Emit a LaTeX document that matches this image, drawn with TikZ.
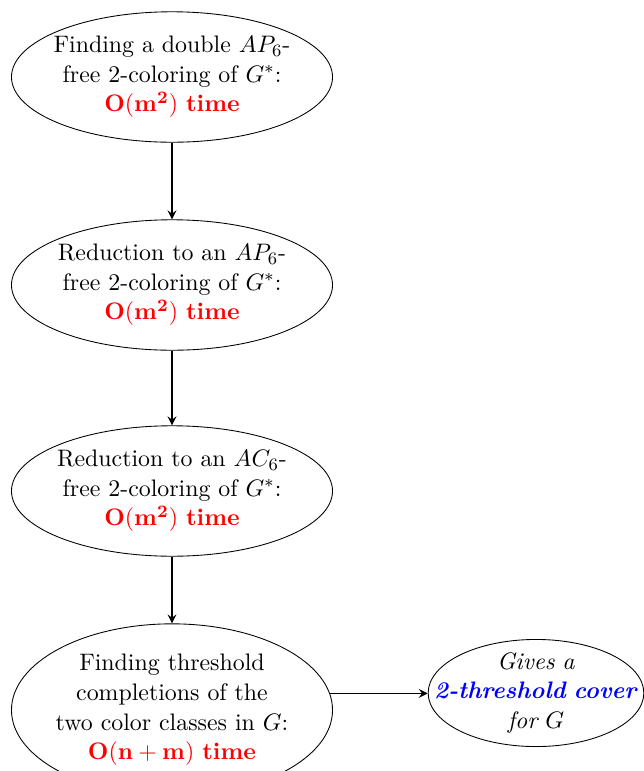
\documentclass[11pt,tikz,border=0pt]{standalone}
\usetikzlibrary{shapes.geometric}
\begin{document}
\begin{tikzpicture}[x=0.459pt,y=0.459pt,yscale=-1,xscale=1,
  stepnode/.style={ellipse, draw, text width=112pt, align=center, inner xsep=-3.9pt, inner ysep=2.4pt},
  resultnode/.style={ellipse, draw, text width=70pt, align=center, inner xsep=0pt, inner ysep=-1.2pt},
  flow/.style={->, >=stealth, thick}]
\path[use as bounding box] (0,0) rectangle (644,771);

%Shape: Ellipse
\node[stepnode] (doubleAP) at (172,77) {Finding a double $AP_6$-\\free 2-coloring of $G^*$:\\\textcolor{red}{\textbf{$\mathbf{O(m^2)}$ time}}};
%Shape: Ellipse
\node[stepnode] (reduceAP) at (172,285) {Reduction to an $AP_6$-\\free 2-coloring of $G^*$:\\\textcolor{red}{\textbf{$\mathbf{O(m^2)}$ time}}};
%Shape: Ellipse
\node[stepnode] (reduceAC) at (172,491) {Reduction to an $AC_6$-\\free 2-coloring of $G^*$:\\\textcolor{red}{\textbf{$\mathbf{O(m^2)}$ time}}};
%Shape: Ellipse
\node[stepnode] (completion) at (172,710) {Finding threshold\\completions of the\\two color classes in $G$:\\\textcolor{red}{\textbf{$\mathbf{O(n+m)}$ time}}};
%Shape: Ellipse
\node[resultnode] (cover) at (536,693) {\textit{Gives a}\\\makebox[0pt]{\textcolor{blue}{\textbf{\textit{2-threshold cover}}}}\\\textit{for $G$}};

%Straight Lines
\draw[flow] (doubleAP) -- (reduceAP);
%Straight Lines
\draw[flow] (reduceAP) -- (reduceAC);
%Straight Lines
\draw[flow] (reduceAC) -- (completion);
%Straight Lines
\draw[flow] (completion.6) -- (completion.6 -| cover.west);

\end{tikzpicture}
\end{document}
